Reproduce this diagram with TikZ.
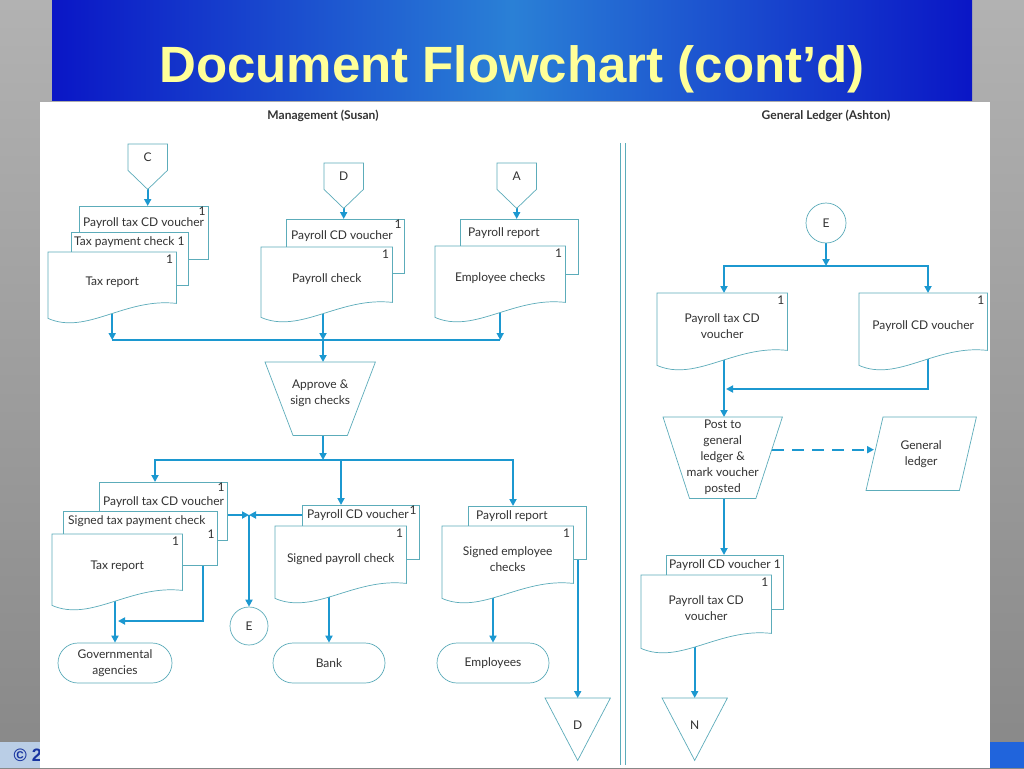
\documentclass[tikz,border=0pt]{standalone}
\usepackage{fontspec}
\setmainfont{Lato}
\newfontfamily\titlefont{Liberation Sans}
\usetikzlibrary{shapes.misc,calc,arrows.meta}

\definecolor{flowblue}{RGB}{28,152,208}
\definecolor{shapeteal}{RGB}{92,172,186}
\definecolor{inkgray}{RGB}{50,50,50}
\definecolor{titleyellow}{RGB}{255,255,153}
\definecolor{banddark}{RGB}{10,22,198}
\definecolor{bandlight}{RGB}{42,128,214}
\definecolor{slidetop}{RGB}{178,178,178}
\definecolor{slidebot}{RGB}{136,136,136}
\definecolor{barlight}{RGB}{186,206,230}
\definecolor{barblue}{RGB}{32,100,220}
\definecolor{copyblue}{RGB}{24,52,160}

\pgfdeclarelayer{slide}
\pgfdeclarelayer{wires}
\pgfsetlayers{slide,wires,main}

\tikzset{
  shp/.style={draw=shapeteal, line width=0.7pt, fill=white},
  flow/.style={draw=flowblue, line width=1.8pt, -{Triangle[length=7pt,width=7pt]}},
  bus/.style={draw=flowblue, line width=1.8pt},
  lbl/.style={anchor=north west, inner sep=0pt},
  lbl1/.style={anchor=north east, inner sep=0pt, xshift=-3pt},
  one/.style={label={[lbl1,yshift=-3pt]north east:1}},
  sheet/.style={shp, rectangle, inner sep=0pt, anchor=north west},
  docu/.style={rectangle, inner sep=0pt, anchor=north west, align=center,
    execute at begin node={\rule{0pt}{17pt}},
    append after command={\pgfextra{\draw[shp] (\tikzlastnode.north west) -- (\tikzlastnode.north east)
      -- (\tikzlastnode.south east)
      .. controls ($(\tikzlastnode.south west)!0.6!(\tikzlastnode.south east)+(0pt,6pt)$)
      and ($(\tikzlastnode.south west)!0.3!(\tikzlastnode.south east)+(0pt,-32pt)$)
      .. ($(\tikzlastnode.south west)+(0pt,-15pt)$) -- cycle;}}},
  offpg/.style={rectangle, inner sep=0pt, minimum width=39pt, minimum height=26pt, anchor=north west,
    append after command={\pgfextra{\draw[shp] (\tikzlastnode.north west) -- (\tikzlastnode.north east)
      -- (\tikzlastnode.south east) -- ([yshift=-19pt]\tikzlastnode.south) -- (\tikzlastnode.south west) -- cycle;}}},
  tri/.style={rectangle, inner sep=0pt, minimum width=65pt, minimum height=62pt, anchor=north west,
    append after command={\pgfextra{\draw[shp] (\tikzlastnode.north west) -- (\tikzlastnode.north east)
      -- (\tikzlastnode.south) -- cycle;}}},
  funnel/.style={rectangle, inner sep=0pt, align=center, anchor=north west,
    append after command={\pgfextra{\draw[shp] (\tikzlastnode.north west) -- (\tikzlastnode.north east)
      -- ([xshift=-#1]\tikzlastnode.south east) -- ([xshift=#1]\tikzlastnode.south west) -- cycle;}}},
  ledger/.style={rectangle, inner sep=0pt, align=center, anchor=north west,
    append after command={\pgfextra{\draw[shp] ([xshift=17pt]\tikzlastnode.north west) -- (\tikzlastnode.north east)
      -- ([xshift=-17pt]\tikzlastnode.south east) -- (\tikzlastnode.south west) -- cycle;}}},
  term/.style={shp, rounded rectangle, inner sep=0pt, align=center, minimum height=40pt},
  conn/.style={shp, circle, inner sep=0pt, minimum size=38pt}
}

\begin{document}
\begin{tikzpicture}[x=1pt,y=-1pt]
\tikzstyle{every node}=[text=inkgray, font=\fontsize{12}{16}\selectfont]
\useasboundingbox (0,0) rectangle (1024,768);

\begin{pgfonlayer}{slide}
\shade[top color=slidetop, bottom color=slidebot] (0,0) rectangle (1024,768);
\fill[barlight] (0,742) rectangle (40,768);
\fill[barblue] (990,742) rectangle (1024,768);
\node[anchor=base west, text=copyblue, font=\titlefont\bfseries\fontsize{18}{18}\selectfont] (copy) at (10,761) {© 20};
\shade[left color=banddark, right color=banddark, middle color=bandlight] (52,0) rectangle (972,100);
\fill[white] (40,102) rectangle (990,768);
\end{pgfonlayer}

\node[anchor=base, text=titleyellow, font=\titlefont\bfseries\fontsize{51}{51}\selectfont] (title) at (512,82) {Document Flowchart (cont’d)};
\node[font=\bfseries\fontsize{12}{14}\selectfont] (mgmt) at (323,116) {Management (Susan)};
\node[font=\bfseries\fontsize{12}{14}\selectfont] (gled) at (826,116) {General Ledger (Ashton)};
\draw[shapeteal, line width=0.8pt] (620,143) -- (620,765) (625,143) -- (625,765);

% management, incoming
\node[offpg] (cC) at (128,144) {C};
\node[sheet, minimum width=129pt, minimum height=53pt, label={[lbl1,yshift=-1pt]north east:1},
  label={[lbl,xshift=4pt,yshift=-11pt]north west:Payroll tax CD voucher}] (tvch) at (79,206) {};
\node[sheet, minimum width=117pt, minimum height=53pt,
  label={[lbl,xshift=3pt,yshift=-4pt]north west:Tax payment check 1}] (tpay) at (71,232) {};
\node[docu, minimum width=128pt, minimum height=51pt, one] (trep) at (48,252) {Tax report};

\node[offpg] (cD) at (324,163) {D};
\node[sheet, minimum width=118pt, minimum height=54pt, label={[lbl1,yshift=-1pt]north east:1},
  label={[lbl,xshift=5pt,yshift=-11pt]north west:Payroll CD voucher}] (pvch) at (286,219) {};
\node[docu, minimum width=131pt, minimum height=55pt, one] (pchk) at (261,247) {Payroll check};

\node[offpg] (cA) at (497,163) {A};
\node[sheet, minimum width=118pt, minimum height=55pt,
  label={[lbl,xshift=8pt,yshift=-8pt]north west:Payroll report}] (prep) at (460,219) {};
\node[docu, minimum width=130pt, minimum height=56pt, one] (echk) at (435,246) {Employee checks};

\node[funnel=28pt, minimum width=110pt, minimum height=73pt,
  execute at end node={\rule[-13pt]{0pt}{1pt}}] (appr) at (265,362) {Approve \&\\sign checks};

% management, outgoing
\node[sheet, minimum width=128pt, minimum height=58pt, label={[lbl1,yshift=-1pt]north east:1},
  label={[lbl,xshift=4pt,yshift=-14pt]north west:Payroll tax CD voucher}] (btv) at (99,482) {};
\node[sheet, minimum width=154pt, minimum height=54pt, label={[lbl1,yshift=-19pt]north east:1},
  label={[lbl,xshift=5pt,yshift=-4pt]north west:Signed tax payment check}] (bsc) at (63,511) {};
\node[docu, minimum width=130pt, minimum height=56pt, one] (btr) at (52,534) {Tax report};

\node[sheet, minimum width=117pt, minimum height=54pt, label={[lbl1,yshift=-1pt]north east:1},
  label={[lbl,xshift=5pt,yshift=-4pt]north west:Payroll CD voucher}] (bpv) at (302,505) {};
\node[docu, minimum width=131pt, minimum height=57pt, one] (bspc) at (275,526) {Signed payroll check};

\node[sheet, minimum width=118pt, minimum height=53pt,
  label={[lbl,xshift=8pt,yshift=-4pt]north west:Payroll report}] (bprep) at (468,506) {};
\node[docu, minimum width=131pt, minimum height=57pt, one] (bsec) at (442,526) {\rule{0pt}{17pt}Signed employee\\checks};

\node[conn] (eL) at (249,626) {E};
\node[term, minimum width=114pt] (gov) at (115,663) {Governmental\\agencies};
\node[term, minimum width=112pt] (bank) at (329,663) {Bank};
\node[term, minimum width=112pt] (emp) at (493,663) {Employees};
\node[tri] (tD) at (545,698) {\raisebox{9pt}{D}};

% general ledger
\node[conn, minimum size=40pt] (eR) at (826,223) {E};
\node[docu, minimum width=130pt, minimum height=57pt, one] (rtv) at (657,293) {\rule{0pt}{17pt}Payroll tax CD\\voucher};
\node[docu, minimum width=128pt, minimum height=57pt, one] (rpv) at (859,293) {Payroll CD voucher};
\node[funnel=26.5pt, minimum width=119pt, minimum height=81pt] (post) at (663,417) {Post to\\general\\ledger \&\\mark voucher\\posted};
\node[ledger, minimum width=110pt, minimum height=73pt] (gl) at (866,417) {General\\ledger};
\node[sheet, minimum width=117pt, minimum height=54pt,
  label={[lbl,xshift=3pt,yshift=-4pt]north west:Payroll CD voucher 1}] (bpv2) at (666,555) {};
\node[docu, minimum width=130pt, minimum height=58pt, one] (bptv) at (641,575) {\rule{0pt}{17pt}Payroll tax CD\\voucher};
\node[tri] (tN) at (662,698) {\raisebox{9pt}{N}};

\begin{pgfonlayer}{wires}
\draw[flow] (cC.south) -- (cC.south |- tvch.north);
\draw[flow] (cD.south) -- (cD.south |- pvch.north);
\draw[flow] (cA.south) -- (cA.south |- prep.north);
\coordinate (j1) at (323,340);
\draw[flow] (trep.south) -- (trep.south |- j1);
\draw[flow] (j1 |- pchk.south) -- (j1);
\draw[flow] (echk.south) -- (echk.south |- j1);
\draw[bus] (trep.south |- j1) -- (echk.south |- j1);
\draw[flow] (j1) -- (j1 |- appr.north);
\coordinate (j2) at (323,460);
\coordinate (b1) at (155,460);
\coordinate (b2) at (341,460);
\coordinate (b3) at (513,460);
\draw[flow] (j2 |- appr.south) -- (j2);
\draw[flow] (j2) -| (b1 |- btv.north);
\draw[flow] (j2) -| (b3 |- bprep.north);
\draw[flow] (b2) -- (b2 |- bpv.north);
\coordinate (ej) at (249,515);
\draw[flow] (btv.east |- ej) -- (ej);
\draw[flow] (bpv.west |- ej) -- (ej);
\draw[flow] (ej) -- (eL.north);
\coordinate (gj) at (118,621);
\draw[flow] ([xshift=-15pt]bsc.south east) |- (gj);
\draw[flow] (gov.north |- btr.south) -- (gov.north);
\draw[flow] (bank.north |- bspc.south) -- (bank.north);
\draw[flow] (emp.north |- bsec.south) -- (emp.north);
\draw[flow] (tD.north |- bprep.south) -- (tD.north);
% ledger side
\coordinate (j3) at (826,266);
\coordinate (b4) at (724,266);
\coordinate (b5) at (928,266);
\draw[flow] (eR.south) -- (j3);
\draw[flow] (j3) -| (b4 |- rtv.north);
\draw[flow] (j3) -| (b5 |- rpv.north);
\draw[flow] (b4 |- rtv.south) -- (b4 |- post.north);
\coordinate (j4) at (726,389);
\draw[flow] (b5 |- rpv.south) |- (j4);
\draw[flow, dash pattern=on 12pt off 8pt] ([xshift=-10pt,yshift=8pt]post.east) -- ([xshift=8pt,yshift=4pt]gl.west);
\draw[flow] (b4 |- post.south) -- (b4 |- bpv2.north);
\draw[flow] (tN.north |- bptv.south) -- (tN.north);
\end{pgfonlayer}
\end{tikzpicture}
\end{document}
